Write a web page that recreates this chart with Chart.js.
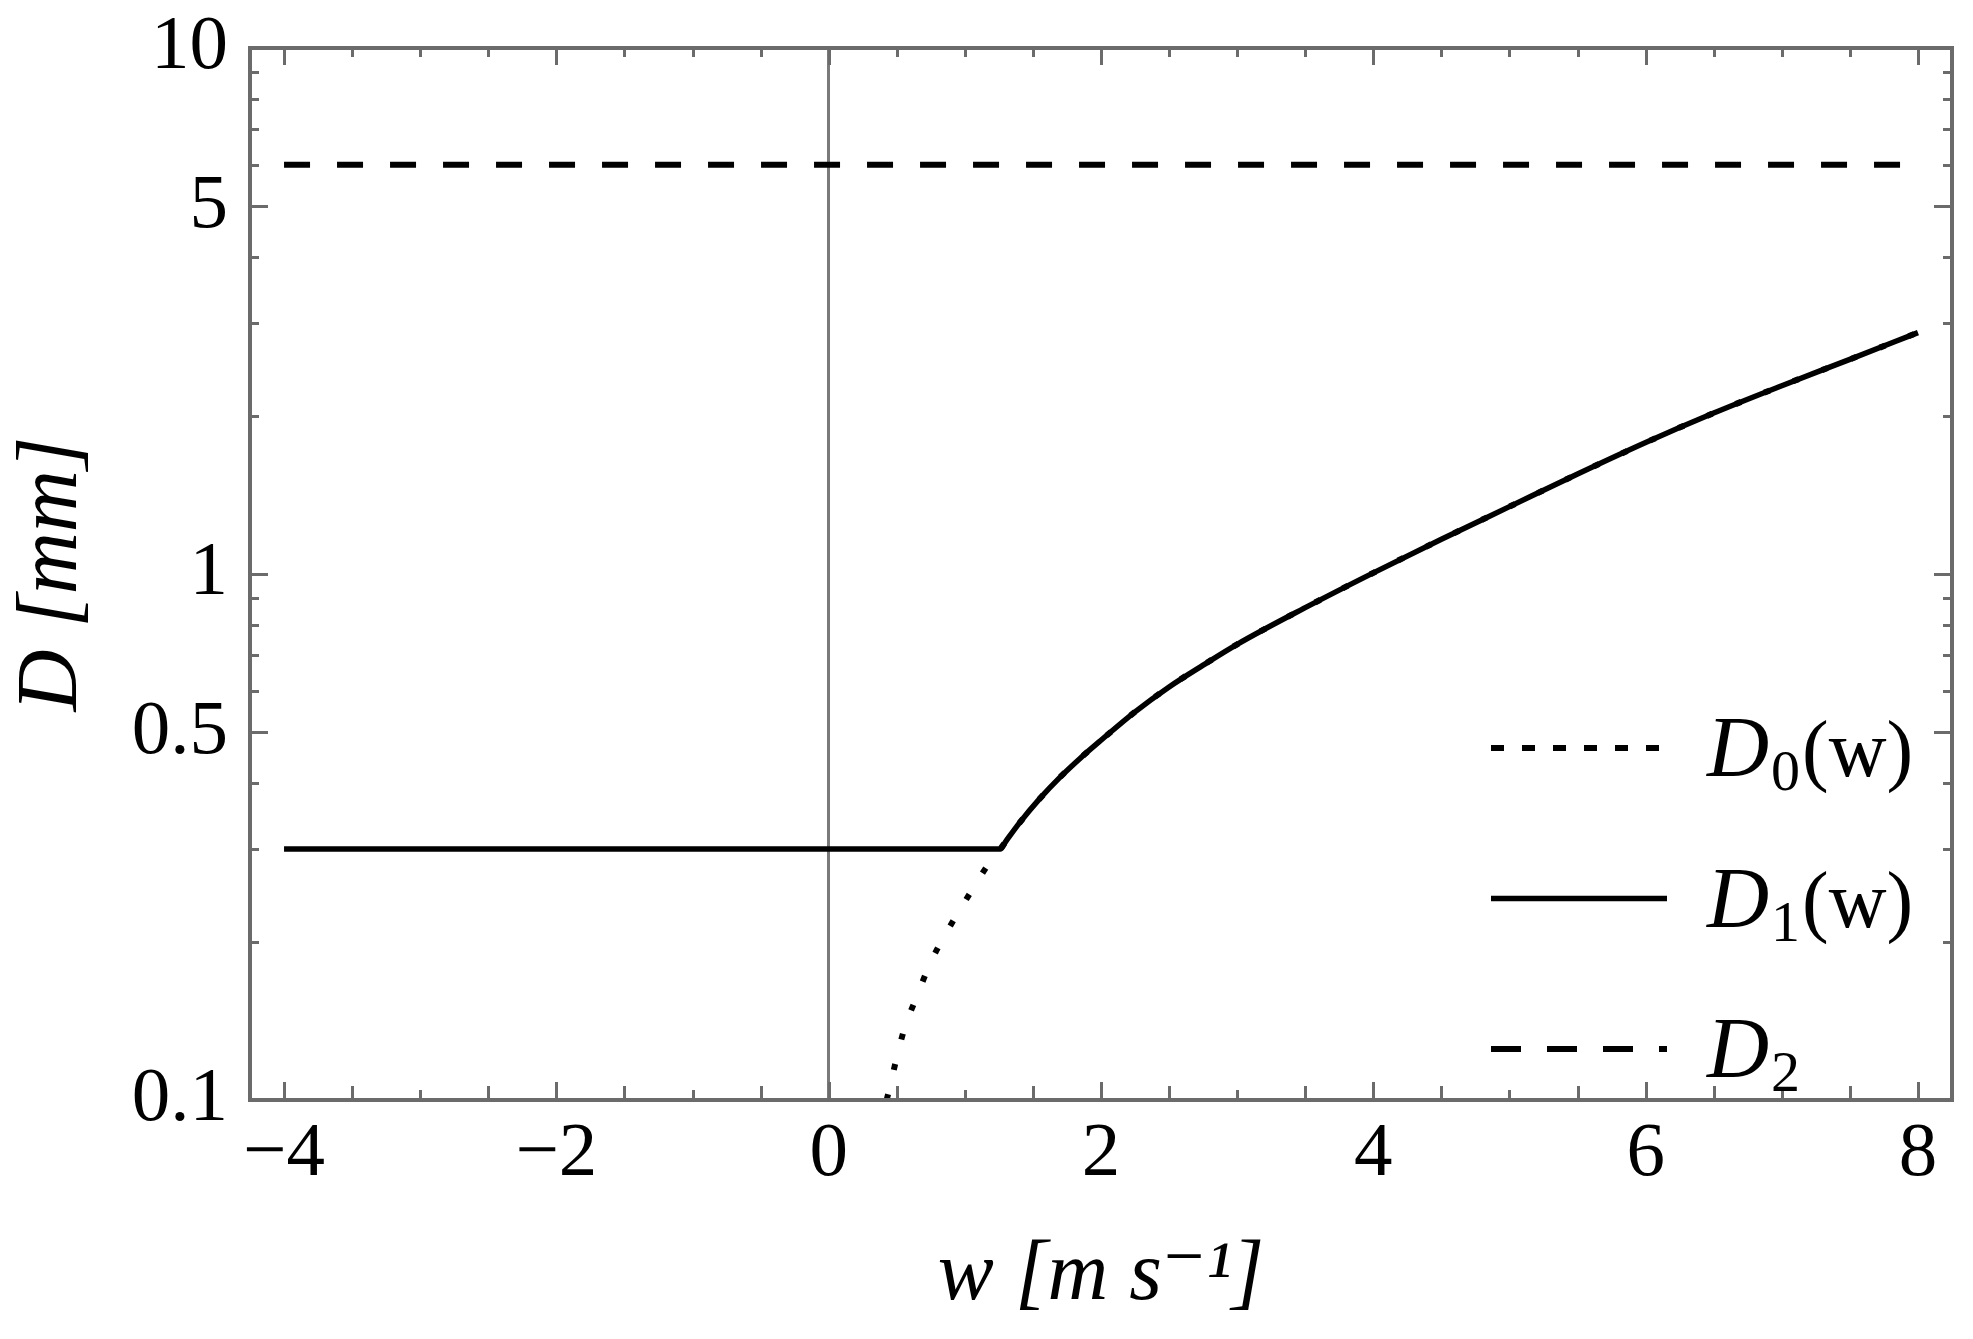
<!DOCTYPE html>
<html><head><meta charset="utf-8">
<script src="https://cdn.jsdelivr.net/npm/chart.js@4.4.1/dist/chart.umd.min.js"></script>
<style>html,body{margin:0;padding:0;background:#fff;}#wrap{width:1973px;height:1339px;}</style>
</head><body><div id="wrap"><canvas id="c" width="1973" height="1339"></canvas></div>
<script>
// ---- data ----
const wD0 = [0.426, 0.55, 0.65, 0.75, 0.85, 0.95, 1.05, 1.15, 1.26, 1.3, 1.4, 1.55, 1.7, 1.85, 2.0, 2.25, 2.5, 2.75, 3.0, 3.5, 4.0, 4.5, 5.0, 5.5, 6.0, 6.5, 7.0, 7.5, 8.0];
const D0  = [0.100, 0.135, 0.158, 0.183, 0.205, 0.227, 0.250, 0.275, 0.300, 0.310, 0.336, 0.374, 0.411, 0.447, 0.483, 0.547, 0.610, 0.671, 0.735, 0.863, 1.005, 1.164, 1.343, 1.549, 1.778, 2.023, 2.280, 2.559, 2.877];
const wD1 = [-4, 1.26, 1.3, 1.4, 1.55, 1.7, 1.85, 2.0, 2.25, 2.5, 2.75, 3.0, 3.5, 4.0, 4.5, 5.0, 5.5, 6.0, 6.5, 7.0, 7.5, 8.0];
const D1  = [0.300, 0.300, 0.310, 0.336, 0.374, 0.411, 0.447, 0.483, 0.547, 0.610, 0.671, 0.735, 0.863, 1.005, 1.164, 1.343, 1.549, 1.778, 2.023, 2.280, 2.559, 2.877];
const wD2 = [-4, 8];
const D2  = [6.0, 6.0];
const seriesLabels = ['D\u2080(w)', 'D\u2081(w)', 'D\u2082'];
const legendBase = ['D', 'D', 'D'];
const legendSub  = ['0', '1', '2'];
const legendArg  = ['(w)', '(w)', ''];
const xTickValues = [-4, -2, 0, 2, 4, 6, 8];
const xTickLabels = ['\u22124', '\u22122', '0', '2', '4', '6', '8'];
const yTickValues = [0.1, 0.5, 1, 5, 10];
const yTickLabels = ['0.1', '0.5', '1', '5', '10'];
const xTitle = 'w [m s\u207B\u00B9]';
const yTitle = 'D [mm]';

const toXY = (xs, ys) => xs.map((x, i) => ({x: x, y: ys[i]}));
const FRAME = '#6b6b6b';
const SERIF = "'Liberation Serif', 'DejaVu Serif', serif";

const frameTicks = {
  id: 'frameTicks',
  afterDatasetsDraw(chart) {
    const {ctx, chartArea: a, scales: {x, y}} = chart;
    ctx.save();
    ctx.strokeStyle = FRAME;
    ctx.lineWidth = 3;
    ctx.beginPath();
    for (let k = -8; k <= 16; k++) {
      const v = k / 2;
      const px = Math.round(x.getPixelForValue(v)) + 0.5;
      const major = k % 4 === 0;
      const integer = k % 2 === 0;
      const lb = major ? 18 : (integer ? 10 : 14);
      const lt = major ? 17 : 9;
      ctx.moveTo(px, a.bottom); ctx.lineTo(px, a.bottom - lb);
      ctx.moveTo(px, a.top); ctx.lineTo(px, a.top + lt);
    }
    [0.1, 1].forEach(dec => {
      for (let k = 1; k <= 9; k++) {
        const v = +(k * dec).toFixed(3);
        if (v < 0.1 || v > 10) continue;
        const py = Math.round(y.getPixelForValue(v)) + 0.5;
        const major = yTickValues.includes(v);
        const l = major ? 18 : 9;
        ctx.moveTo(a.left, py); ctx.lineTo(a.left + l, py);
        ctx.moveTo(a.right, py); ctx.lineTo(a.right - l, py);
      }
    });
    ctx.stroke();
    ctx.lineWidth = 4;
    ctx.strokeRect(a.left, a.top, a.right - a.left, a.bottom - a.top);
    ctx.restore();
  }
};

const mathLegend = {
  id: 'mathLegend',
  afterDraw(chart) {
    const {ctx} = chart;
    const x0 = 1491, x1 = 1667, tx = 1707;
    const rows = [748, 898.5, 1049];
    ctx.save();
    chart.data.datasets.forEach((ds, i) => {
      const yy = rows[i];
      ctx.strokeStyle = ds.borderColor;
      ctx.lineWidth = ds.borderWidth;
      ctx.setLineDash(ds.legendDash || []);
      ctx.beginPath(); ctx.moveTo(x0, yy); ctx.lineTo(x1, yy); ctx.stroke();
      ctx.setLineDash([]);
      ctx.fillStyle = '#000';
      ctx.textBaseline = 'alphabetic';
      ctx.textAlign = 'left';
      const base = yy + 28;
      let cx = tx;
      ctx.font = 'italic 86px ' + SERIF;
      ctx.fillText(legendBase[i], cx, base);
      cx += ctx.measureText(legendBase[i]).width + 2;
      ctx.font = '58px ' + SERIF;
      ctx.fillText(legendSub[i], cx, base + 14);
      cx += ctx.measureText(legendSub[i]).width + 2;
      if (legendArg[i]) {
        ctx.font = '80px ' + SERIF;
        ctx.fillText(legendArg[i], cx, base);
      }
    });
    ctx.restore();
  }
};

new Chart(document.getElementById('c'), {
  type: 'line',
  data: {
    datasets: [
      { label: seriesLabels[0], data: toXY(wD0, D0), borderColor: '#000', borderWidth: 6,
        borderDash: [6, 25], legendDash: [13, 18], pointRadius: 0,
        cubicInterpolationMode: 'monotone', order: 2 },
      { label: seriesLabels[1], data: toXY(wD1, D1), borderColor: '#000', borderWidth: 5.5,
        pointRadius: 0, cubicInterpolationMode: 'monotone', order: 0 },
      { label: seriesLabels[2], data: toXY(wD2, D2), borderColor: '#000', borderWidth: 6,
        borderDash: [26, 27], legendDash: [30, 26], pointRadius: 0, tension: 0, order: 1 }
    ]
  },
  options: {
    responsive: false, animation: false, devicePixelRatio: 1,
    layout: { padding: { left: 0, right: 21, top: 48, bottom: 0 } },
    plugins: { legend: { display: false }, tooltip: { enabled: false } },
    scales: {
      x: {
        type: 'linear', min: -4.25, max: 8.25,
        afterBuildTicks: s => { s.ticks = xTickValues.map(v => ({value: v})); },
        afterFit: s => { s.height = 239; s.paddingLeft = 0; s.paddingRight = 0; },
        ticks: { autoSkip: false, maxRotation: 0, padding: 9, color: '#000',
          font: { family: SERIF, size: 77 },
          callback: (v) => { const i = xTickValues.indexOf(v); return i >= 0 ? xTickLabels[i] : ''; } },
        grid: { drawTicks: false, lineWidth: 3,
          color: c => (c.tick && c.tick.value === 0) ? '#7a7a7a' : 'rgba(0,0,0,0)' },
        border: { display: false },
        title: { display: true, text: xTitle, color: '#000',
          font: { family: SERIF, size: 84, style: 'italic' }, padding: { top: 0, bottom: 12 } }
      },
      y: {
        type: 'logarithmic', min: 0.1, max: 10,
        afterBuildTicks: s => { s.ticks = yTickValues.map(v => ({value: v, major: true})); },
        afterFit: s => { s.width = 250; s.paddingTop = 0; s.paddingBottom = 0; },
        ticks: { autoSkip: false, padding: 22, color: '#000',
          font: { family: SERIF, size: 77 },
          callback: (v) => { const i = yTickValues.indexOf(v); return i >= 0 ? yTickLabels[i] : ''; } },
        grid: { display: false, drawTicks: false },
        border: { display: false },
        title: { display: true, text: yTitle, color: '#000',
          font: { family: SERIF, size: 86, style: 'italic' }, padding: { top: 2, bottom: 0 } }
      }
    }
  },
  plugins: [frameTicks, mathLegend]
});
</script></body></html>
